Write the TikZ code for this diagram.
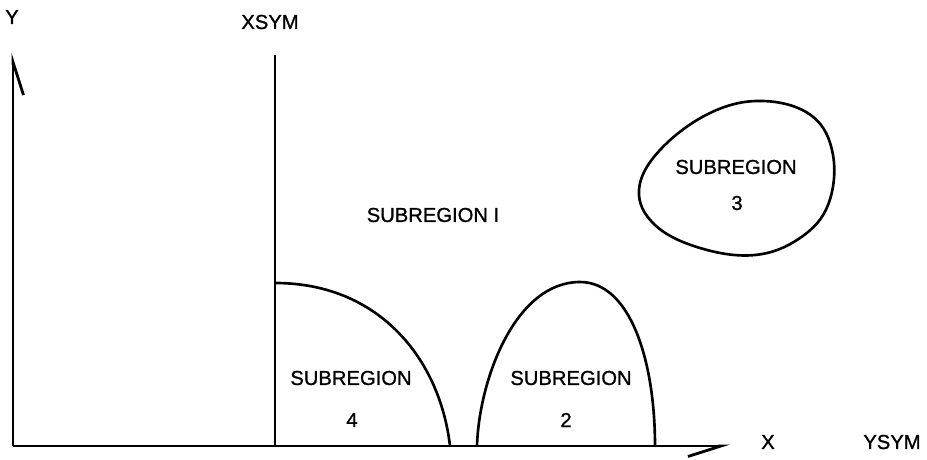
\documentclass[tikz,border=0pt]{standalone}
\usepackage{fontspec}
\setmainfont{Liberation Sans}
\newfontfamily\letterfont[FakeBold=1]{Liberation Sans}
\usetikzlibrary{arrows.meta}
\tikzset{
  reg/label/.style={font=\letterfont\fontsize{11.5}{14}\selectfont, inner sep=1pt, align=center},
  reg/axis/.style={line width=1.6pt, -{Straight Barb[harpoon,swap,length=0.66cm,width=0.42cm,line width=1.6pt]}},
  reg/line/.style={line width=1.6pt},
  reg/boundary/.style={line width=1.5pt, line join=round}
}
\begin{document}
\begin{tikzpicture}[x=0.02cm,y=0.02cm]
  \useasboundingbox (0,0) rectangle (927,460);
  % axes and symmetry line
  \coordinate (origin) at (13,14);
  \coordinate (ytop) at (13,407);
  \coordinate (xend) at (730,14);
  \coordinate (symbot) at (275,14);
  \coordinate (symtop) at (275,405);
  \draw[reg/axis] (origin) -- (ytop);
  \draw[reg/axis] (origin) -- (xend);
  \draw[reg/line] (symbot) -- (symtop);
  \node[reg/label] (ylab) at (12,443) {Y};
  \node[reg/label] (xsymlab) at (270,438) {XSYM};
  \node[reg/label] (xlab) at (768,18) {X};
  \node[reg/label] (ysymlab) at (892,18) {YSYM};
  % subregion boundaries
  \draw[reg/boundary] (275,177) .. controls (380,177) and (440,100) .. (450,14);
  \draw[reg/boundary] (477,14) .. controls (479,80) and (515,178) .. (580,178)
    .. controls (630,178) and (655,100) .. (655,14);
  \draw[reg/boundary] plot[smooth cycle, tension=0.65] coordinates
    {(763,359) (812,344) (833,305) (828,255) (800,222) (755,205) (700,212)
     (655,235) (639,270) (660,310) (710,347)};
  % labels
  \node[reg/label] (sub1) at (433,245) {SUBREGION I};
  \node[reg/label] (sub4) at (351,82) {SUBREGION};
  \node[reg/label] (sub4n) at (352,40) {4};
  \node[reg/label] (sub2) at (571,82) {SUBREGION};
  \node[reg/label] (sub2n) at (566,40) {2};
  \node[reg/label] (sub3) at (736,293) {SUBREGION};
  \node[reg/label] (sub3n) at (737,257) {3};
\end{tikzpicture}
\end{document}
